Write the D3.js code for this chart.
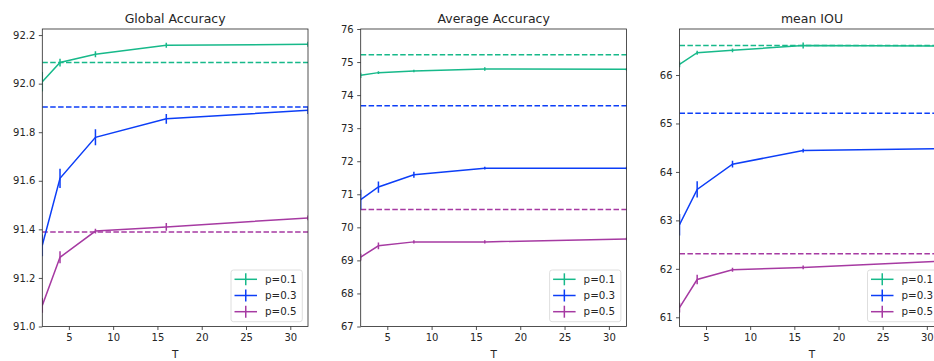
<!DOCTYPE html>
<html>
<head>
<meta charset="utf-8">
<script src="https://cdn.jsdelivr.net/npm/d3@7"></script>
<style>
  html, body { margin: 0; padding: 0; background: #fff; overflow: hidden; }
  svg { display: block; font-family: "DejaVu Sans", sans-serif; }
</style>
</head>
<body>
<div id="chart"></div>
<script>
// ---- data ----
const T = [2, 4, 8, 16, 32];
const seriesNames = ["p=0.1", "p=0.3", "p=0.5"];
const panelTitles = ["Global Accuracy", "Average Accuracy", "mean IOU"];

// Global Accuracy
const globalP01 = [92.008, 92.087, 92.121, 92.158, 92.162];
const globalP03 = [91.334, 91.610, 91.779, 91.855, 91.890];
const globalP05 = [91.087, 91.285, 91.393, 91.410, 91.447];
const globalErr01 = [0.04, 0.016, 0.012, 0.01, 0.01];
const globalErr03 = [0.045, 0.04, 0.033, 0.02, 0.015];
const globalErr05 = [0.03, 0.025, 0.01, 0.016, 0.01];
const globalBase = [92.087, 91.904, 91.389];
const globalTicks = [91.0, 91.2, 91.4, 91.6, 91.8, 92.0, 92.2];

// Average Accuracy
const avgP01 = [74.60, 74.68, 74.73, 74.79, 74.78];
const avgP03 = [70.84, 71.22, 71.59, 71.79, 71.79];
const avgP05 = [69.10, 69.44, 69.56, 69.56, 69.65];
const avgErr01 = [0.08, 0.04, 0.04, 0.05, 0.04];
const avgErr03 = [0.3, 0.17, 0.09, 0.04, 0.04];
const avgErr05 = [0.1, 0.1, 0.05, 0.05, 0.04];
const avgBase = [75.22, 73.68, 70.54];
const avgTicks = [67, 68, 69, 70, 71, 72, 73, 74, 75, 76];

// mean IOU
const iouP01 = [66.22, 66.46, 66.51, 66.61, 66.60];
const iouP03 = [62.91, 63.64, 64.16, 64.44, 64.48];
const iouP05 = [61.20, 61.78, 61.98, 62.03, 62.16];
const iouErr01 = [0.06, 0.04, 0.04, 0.06, 0.04];
const iouErr03 = [0.22, 0.17, 0.07, 0.04, 0.04];
const iouErr05 = [0.1, 0.1, 0.04, 0.04, 0.04];
const iouBase = [66.61, 65.21, 62.31];
const iouTicks = [61, 62, 63, 64, 65, 66];

const xTicks = [5, 10, 15, 20, 25, 30];
const colors = ["#17b98a", "#0c3ef7", "#a63aa2"];

// ---- layout ----
const W = 960, H = 361;
const panels = [
  { title: panelTitles[0], left: 42.3, right: 308, domain: [91.0, 92.225], ticks: globalTicks, fmt: d3.format(".1f"),
    vals: [globalP01, globalP03, globalP05], errs: [globalErr01, globalErr03, globalErr05], base: globalBase },
  { title: panelTitles[1], left: 360.7, right: 626.6, domain: [67, 76], ticks: avgTicks, fmt: d3.format("d"),
    vals: [avgP01, avgP03, avgP05], errs: [avgErr01, avgErr03, avgErr05], base: avgBase },
  { title: panelTitles[2], left: 679.5, right: 944.5, domain: [60.81, 66.95], ticks: iouTicks, fmt: d3.format("d"),
    vals: [iouP01, iouP03, iouP05], errs: [iouErr01, iouErr03, iouErr05], base: iouBase }
];
const plotTop = 29, plotBottom = 326.5;
const ink = "#262626";

const svg = d3.select("#chart").append("svg").attr("width", W).attr("height", H);
const defs = svg.append("defs");

panels.forEach((p, pi) => {
  const x = d3.scaleLinear().domain([2, 32]).range([p.left, p.right]);
  const y = d3.scaleLinear().domain(p.domain).range([plotBottom, plotTop]);
  const g = svg.append("g");

  defs.append("clipPath").attr("id", "clip" + pi)
    .append("rect").attr("x", p.left).attr("y", plotTop).attr("width", p.right - p.left).attr("height", plotBottom - plotTop);

  const plot = g.append("g").attr("clip-path", `url(#clip${pi})`);

  // baselines (dashed)
  p.base.forEach((b, si) => {
    plot.append("line")
      .attr("x1", x(2)).attr("x2", x(32)).attr("y1", y(b)).attr("y2", y(b))
      .attr("stroke", colors[si]).attr("stroke-width", 1.5).attr("stroke-dasharray", "5.5,2.4");
  });

  // series lines with error bars
  const line = d3.line().x((d, i) => x(T[i])).y(d => y(d));
  p.vals.forEach((vals, si) => {
    plot.append("path").datum(vals).attr("d", line)
      .attr("fill", "none").attr("stroke", colors[si]).attr("stroke-width", 1.5);
    plot.selectAll(null).data(vals).enter().append("line")
      .attr("x1", (d, i) => x(T[i])).attr("x2", (d, i) => x(T[i]))
      .attr("y1", (d, i) => y(d - p.errs[si][i])).attr("y2", (d, i) => y(d + p.errs[si][i]))
      .attr("stroke", colors[si]).attr("stroke-width", 1.5);
  });

  // axes
  const xa = g.append("g").attr("transform", `translate(0,${plotBottom})`)
    .call(d3.axisBottom(x).tickValues(xTicks).tickSize(3.5).tickPadding(3.5).tickFormat(d3.format("d")));
  const ya = g.append("g").attr("transform", `translate(${p.left},0)`)
    .call(d3.axisLeft(y).tickValues(p.ticks).tickSize(3.5).tickPadding(3.5).tickFormat(p.fmt));
  [xa, ya].forEach(a => {
    a.select(".domain").remove();
    a.selectAll("line").attr("stroke", ink).attr("stroke-width", 0.8);
    a.selectAll("text").attr("fill", ink).style("font-size", "10px").style("font-family", "DejaVu Sans");
  });

  // frame
  g.append("rect").attr("x", p.left).attr("y", plotTop).attr("width", p.right - p.left).attr("height", plotBottom - plotTop)
    .attr("fill", "none").attr("stroke", ink).attr("stroke-width", 0.8);

  // title
  g.append("text").attr("x", (p.left + p.right) / 2).attr("y", 22.5)
    .attr("text-anchor", "middle").attr("fill", ink).style("font-size", "12.5px").text(p.title);

  // x label
  g.append("text").attr("x", (p.left + p.right) / 2).attr("y", 358)
    .attr("text-anchor", "middle").attr("fill", ink).style("font-size", "10.5px").text("T");

  // legend
  const lx = p.right - 77, ly = 270, lw = 71.3, lh = 51.7;
  const lg = g.append("g");
  lg.append("rect").attr("x", lx).attr("y", ly).attr("width", lw).attr("height", lh)
    .attr("rx", 2.5).attr("fill", "#fff").attr("fill-opacity", 0.8).attr("stroke", "#d6d6d6").attr("stroke-width", 0.8);
  seriesNames.forEach((n, si) => {
    const cy = ly + 9.3 + si * 16.2;
    lg.append("line").attr("x1", lx + 3.5).attr("x2", lx + 26).attr("y1", cy).attr("y2", cy)
      .attr("stroke", colors[si]).attr("stroke-width", 1.5);
    lg.append("line").attr("x1", lx + 14.75).attr("x2", lx + 14.75).attr("y1", cy - 6).attr("y2", cy + 6)
      .attr("stroke", colors[si]).attr("stroke-width", 1.5);
    lg.append("text").attr("x", lx + 34).attr("y", cy + 3.6).attr("fill", ink)
      .style("font-size", "10.3px").text(n);
  });
});
</script>
</body>
</html>
